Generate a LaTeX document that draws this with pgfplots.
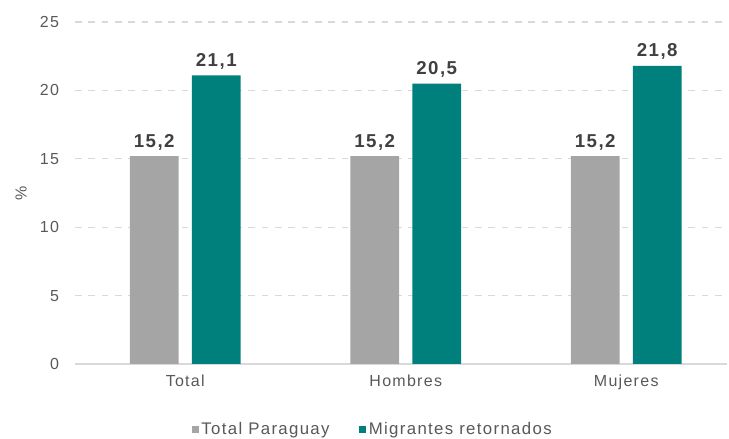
\documentclass[border=0pt]{standalone}
\usepackage{pgfplots}
\pgfplotsset{compat=1.18}
\usepackage{fontspec}
\setmainfont{Liberation Sans}[LetterSpace=8]
\definecolor{cgray}{HTML}{A5A5A5}
\definecolor{cteal}{HTML}{00807D}
\definecolor{ctext}{HTML}{595959}
\definecolor{clab}{HTML}{404040}
\definecolor{cgrid}{HTML}{D9D9D9}
\begin{document}
\begin{tikzpicture}
\useasboundingbox (0,0) rectangle (546.75pt,329.25pt);
\begin{axis}[
  at={(56.25pt,56.25pt)}, anchor=south west,
  scale only axis, width=489pt, height=256.5pt,
  xmin=-0.5, xmax=2.457, ymin=0, ymax=25,
  xtick={0,1,2}, xticklabels={Total,Hombres,Mujeres},
  ytick={0,5,10,15,20,25},
  ymajorgrids, grid style={cgrid, dash pattern=on 5pt off 5pt, line width=0.8pt},
  axis x line*=bottom, axis y line*=left,
  x axis line style={cgrid, line width=0.8pt, -},
  y axis line style={draw=none},
  major tick length=0pt,
  tick label style={font=\fontsize{12}{14}\selectfont, text=ctext},
  /pgf/number format/assume math mode=true,
  yticklabel shift=8.5pt,
  xticklabel shift=5pt,
  ylabel={\%}, ylabel style={font=\fontsize{12}{14}\selectfont, text=ctext, yshift=3pt},
  ybar, bar width=36.5pt,
  nodes near coords={\pgfmathprintnumber[use comma,fixed,precision=1,fixed zerofill,assume math mode=true]{\pgfplotspointmeta}},
  every node near coord/.append style={font=\fontsize{14}{16}\selectfont\bfseries, text=clab, yshift=1pt},
  legend style={at={(0.457,-0.155)}, anchor=north, draw=none, legend columns=2,
    font=\fontsize{12.6}{14}\selectfont, text=ctext,
    /tikz/every even column/.append style={column sep=20pt}},
  legend image code/.code={\fill[#1] (0pt,-2.7pt) rectangle (5.4pt,2.7pt);},
]
\addplot[fill=cgray, draw=none, bar shift=-23.25pt] coordinates {(0,15.2) (1,15.2) (2,15.2)};
\addplot[fill=cteal, draw=none, bar shift=23.25pt] coordinates {(0,21.1) (1,20.5) (2,21.8)};
\legend{Total Paraguay, Migrantes retornados}
\end{axis}
\end{tikzpicture}
\end{document}
